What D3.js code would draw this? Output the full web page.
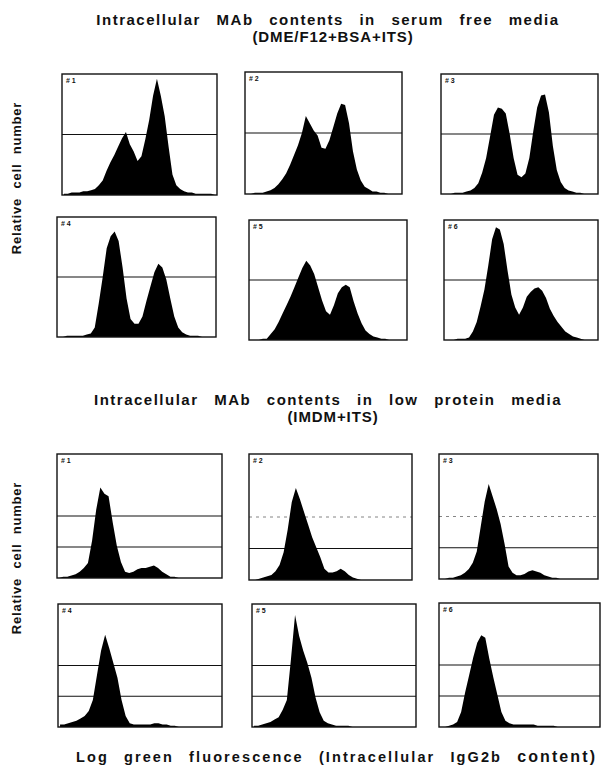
<!DOCTYPE html>
<html lang="en">
<head>
<meta charset="UTF-8">
<title>Intracellular MAb contents</title>
<script src="https://cdn.jsdelivr.net/npm/d3@7/dist/d3.min.js"></script>
<style>
    body { margin: 0; background: #fff; }
    svg text { font-family: "Liberation Sans", Arial, sans-serif; font-weight: bold; fill: #111; }
</style>
</head>
<body>
<svg id="main" width="605" height="776"></svg>
<script>
    // histogram counts, 40 channels each, % of panel height
    const sf1 = [1,1,2,2,2,3,3,4,5,8,12,20,27,33,40,47,52,42,36,28,32,46,62,82,96,82,65,40,17,8,5,3,2,2,1,1,1,1,1,0];
    const sf2 = [0,0,1,1,1,2,3,5,8,12,17,24,32,40,50,64,58,52,48,38,37,44,55,66,74,73,58,35,20,11,6,4,2,2,1,1,0,0,0,0];
    const sf3 = [0,0,0,1,1,1,2,3,5,9,18,30,48,66,72,71,67,50,30,16,14,17,30,52,72,82,83,68,40,20,10,5,3,2,1,1,0,0,0,0];
    const sf4 = [0,0,1,1,1,1,1,2,3,8,28,50,74,84,88,80,58,32,15,11,11,17,30,42,54,61,58,48,32,17,8,4,2,1,1,1,0,0,0,0];
    const sf5 = [0,0,0,1,1,5,9,15,22,29,36,44,52,60,66,62,55,44,33,24,21,29,39,44,46,44,32,22,14,8,5,3,2,1,1,0,0,0,0,0];
    const sf6 = [0,0,0,1,1,1,2,7,15,28,42,62,84,94,92,80,58,38,27,21,27,36,40,43,44,41,35,26,20,15,11,7,5,3,2,1,0,0,0,0];

    const lp1 = [0,1,1,2,3,5,8,12,30,55,73,68,66,45,26,13,5,4,5,7,8,8,9,10,8,5,3,1,1,0,0,0,0,0,0,0,0,0,0,0];
    const lp2 = [0,0,1,2,3,4,7,12,22,40,62,73,64,54,44,34,26,18,9,6,6,7,9,7,4,2,1,0,0,0,0,0,0,0,0,0,0,0,0,0];
    const lp3 = [0,0,1,1,2,3,5,8,13,22,42,62,76,66,56,44,28,10,5,3,3,4,6,7,6,5,3,2,1,1,0,0,0,0,0,0,0,0,0,0];
    const lp4 = [2,2,3,4,5,7,9,13,22,42,62,75,64,52,40,22,9,3,2,2,2,2,2,3,3,2,2,1,1,0,0,0,0,0,0,0,0,0,0,0];
    const lp5 = [1,1,2,3,4,6,8,14,22,55,91,74,62,52,40,24,12,5,3,2,1,1,1,1,0,0,0,0,0,0,0,0,0,0,0,0,0,0,0,0];
    const lp6 = [0,0,1,2,4,12,28,42,56,68,74,72,55,40,26,12,5,3,2,2,2,2,2,2,1,1,1,1,1,0,0,0,0,0,0,0,0,0,0,0];

    const panelNames = ['# 1', '# 2', '# 3', '# 4', '# 5', '# 6'];
    const titles = [
        ['Intracellular MAb contents in serum free media', '(DME/F12+BSA+ITS)'],
        ['Intracellular MAb contents in low protein media', '(IMDM+ITS)']
    ];
    const yLabel = 'Relative cell number';
    const xLabel = 'Log green fluorescence (Intracellular IgG2b ';
    const xLabelEnd = 'content)';

    // panel frames [left, top, right, bottom]
    const frames = [
        [[62, 74, 217, 195], [245, 72, 402, 194], [441, 74, 598, 194],
         [57, 217, 216, 337], [249, 220, 407, 340], [444, 220, 598, 340]],
        [[57, 454, 222, 578], [249, 454, 412, 580], [439, 454, 598, 579],
         [58, 604, 222, 727], [252, 604, 416, 727], [439, 603, 600, 727]]
    ];

    const groups = [
        {data: [sf1, sf2, sf3, sf4, sf5, sf6], lines: [50], dotted: []},
        {data: [lp1, lp2, lp3, lp4, lp5, lp6], lines: [50, 25], dotted: [1, 2]}
    ];

    let svg = d3.select('svg#main');

    groups.forEach(function (g, gi) {
        g.data.forEach(function (counts, pi) {
            let f = frames[gi][pi];
            let x = d3.scaleLinear().domain([0, counts.length]).range([f[0], f[2]]);
            let y = d3.scaleLinear().domain([0, 100]).range([f[3], f[1]]);
            let panel = svg.append('g');

            // horizontal reference lines
            g.lines.forEach(function (v, li) {
                let faint = li === 0 && g.dotted.includes(pi);
                panel.append('line')
                    .attr('x1', f[0]).attr('x2', f[2])
                    .attr('y1', y(v)).attr('y2', y(v))
                    .attr('stroke', faint ? '#666' : '#111')
                    .attr('stroke-width', faint ? 0.8 : 1.1)
                    .attr('stroke-dasharray', faint ? '3,4' : null);
            });

            let area = d3.area()
                .x((d, i) => x(i + 0.5))
                .y0(y(0))
                .y1(d => y(d));
            panel.append('path')
                .datum(counts)
                .attr('fill', '#000')
                .attr('d', area);

            panel.append('rect')
                .attr('x', f[0]).attr('y', f[1])
                .attr('width', f[2] - f[0]).attr('height', f[3] - f[1])
                .attr('fill', 'none')
                .attr('stroke', '#111')
                .attr('stroke-width', 1.4);

            panel.append('text')
                .attr('x', f[0] + 4).attr('y', f[1] + 9)
                .style('font-size', '7px')
                .text(panelNames[pi]);
        });
    });

    // titles
    [[25, 42], [405, 422]].forEach(function (ys, gi) {
        svg.append('text')
            .attr('x', 328).attr('y', ys[0])
            .attr('text-anchor', 'middle')
            .style('font-size', '15px')
            .style('letter-spacing', '1.5px')
            .style('word-spacing', '10px')
            .text(titles[gi][0]);
        svg.append('text')
            .attr('x', 333).attr('y', ys[1])
            .attr('text-anchor', 'middle')
            .style('font-size', '15px')
            .style('letter-spacing', '0.9px')
            .text(titles[gi][1]);
    });

    // y labels
    [178, 558].forEach(function (cy) {
        svg.append('text')
            .attr('transform', 'translate(21,' + cy + ') rotate(-90)')
            .attr('text-anchor', 'middle')
            .style('font-size', '13px')
            .style('word-spacing', '5px')
            .style('letter-spacing', '0.8px')
            .text(yLabel);
    });

    // x label
    let xl = svg.append('text')
        .attr('x', 76).attr('y', 762)
        .style('font-size', '14.5px')
        .style('letter-spacing', '2.1px')
        .style('word-spacing', '9px');
    xl.append('tspan').text(xLabel);
    xl.append('tspan').style('font-size', '16px').text(xLabelEnd);
</script>
</body>
</html>
